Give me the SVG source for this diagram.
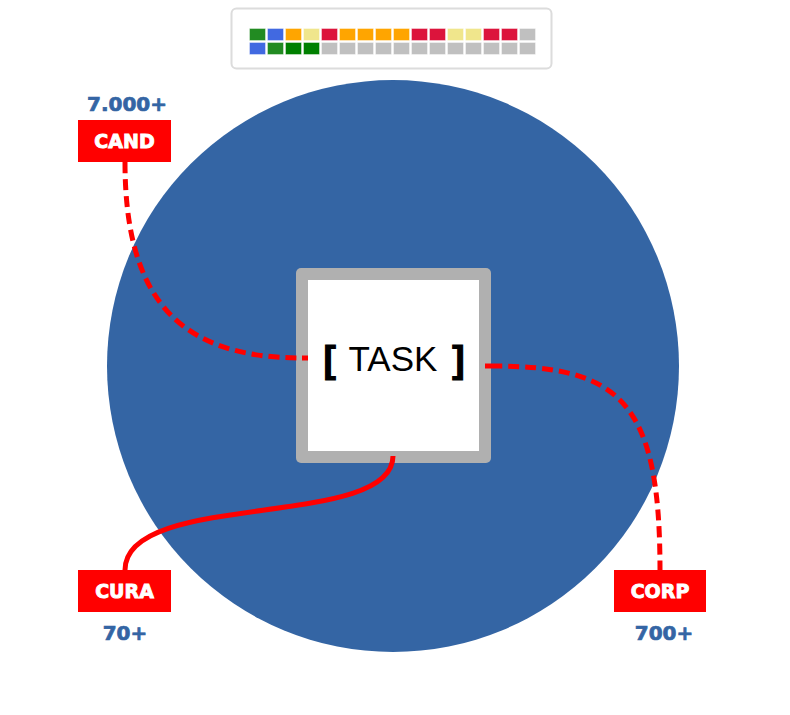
<svg xmlns="http://www.w3.org/2000/svg" width="790" height="715" viewBox="0 0 790 715">
<style>
.sq{stroke:#fff;stroke-opacity:0.4;stroke-width:1}
.lbl rect{fill:#ff0000}
.lbl text{font-family:"DejaVu Sans",sans-serif;font-weight:bold;font-size:19px;fill:#fff;stroke:#fff;stroke-width:0.9;text-anchor:middle}
.num{font-family:"DejaVu Sans",sans-serif;font-weight:bold;font-size:20px;fill:#3465a4;stroke:#3465a4;stroke-width:0.7;text-anchor:middle}
.con{fill:none;stroke:#ff0000;stroke-width:5}
.dash{stroke-dasharray:11 6}
.brk{font-family:"Liberation Sans",Arial,sans-serif;font-weight:bold;font-size:37px;fill:#000;stroke:#000;stroke-width:1.2}
</style>
<rect width="790" height="715" fill="#fff"/>
<g id="legend">
<rect x="231.5" y="8.5" width="320" height="60" rx="5" fill="#fff" stroke="#dcdcdc" stroke-width="2"/>
<g id="row1">
<rect class="sq" x="249.5" y="28.5" width="16" height="12" fill="#228b22"/>
<rect class="sq" x="267.5" y="28.5" width="16" height="12" fill="#4169e1"/>
<rect class="sq" x="285.5" y="28.5" width="16" height="12" fill="#ffa500"/>
<rect class="sq" x="303.5" y="28.5" width="16" height="12" fill="#f0e68c"/>
<rect class="sq" x="321.5" y="28.5" width="16" height="12" fill="#dc143c"/>
<rect class="sq" x="339.5" y="28.5" width="16" height="12" fill="#ffa500"/>
<rect class="sq" x="357.5" y="28.5" width="16" height="12" fill="#ffa500"/>
<rect class="sq" x="375.5" y="28.5" width="16" height="12" fill="#ffa500"/>
<rect class="sq" x="393.5" y="28.5" width="16" height="12" fill="#ffa500"/>
<rect class="sq" x="411.5" y="28.5" width="16" height="12" fill="#dc143c"/>
<rect class="sq" x="429.5" y="28.5" width="16" height="12" fill="#dc143c"/>
<rect class="sq" x="447.5" y="28.5" width="16" height="12" fill="#f0e68c"/>
<rect class="sq" x="465.5" y="28.5" width="16" height="12" fill="#f0e68c"/>
<rect class="sq" x="483.5" y="28.5" width="16" height="12" fill="#dc143c"/>
<rect class="sq" x="501.5" y="28.5" width="16" height="12" fill="#dc143c"/>
<rect class="sq" x="519.5" y="28.5" width="16" height="12" fill="#c0c0c0"/>
</g>
<g id="row2">
<rect class="sq" x="249.5" y="42.5" width="16" height="12" fill="#4169e1"/>
<rect class="sq" x="267.5" y="42.5" width="16" height="12" fill="#228b22"/>
<rect class="sq" x="285.5" y="42.5" width="16" height="12" fill="#008000"/>
<rect class="sq" x="303.5" y="42.5" width="16" height="12" fill="#008000"/>
<rect class="sq" x="321.5" y="42.5" width="16" height="12" fill="#c0c0c0"/>
<rect class="sq" x="339.5" y="42.5" width="16" height="12" fill="#c0c0c0"/>
<rect class="sq" x="357.5" y="42.5" width="16" height="12" fill="#c0c0c0"/>
<rect class="sq" x="375.5" y="42.5" width="16" height="12" fill="#c0c0c0"/>
<rect class="sq" x="393.5" y="42.5" width="16" height="12" fill="#c0c0c0"/>
<rect class="sq" x="411.5" y="42.5" width="16" height="12" fill="#c0c0c0"/>
<rect class="sq" x="429.5" y="42.5" width="16" height="12" fill="#c0c0c0"/>
<rect class="sq" x="447.5" y="42.5" width="16" height="12" fill="#c0c0c0"/>
<rect class="sq" x="465.5" y="42.5" width="16" height="12" fill="#c0c0c0"/>
<rect class="sq" x="483.5" y="42.5" width="16" height="12" fill="#c0c0c0"/>
<rect class="sq" x="501.5" y="42.5" width="16" height="12" fill="#c0c0c0"/>
<rect class="sq" x="519.5" y="42.5" width="16" height="12" fill="#c0c0c0"/>
</g>
</g>
<g id="circle">
<circle cx="393" cy="366" r="286" fill="#3465a4"/>
</g>
<g id="task">
<rect x="296" y="268" width="195" height="195" rx="5" fill="#b0b0b0"/>
<rect x="308" y="280" width="171" height="171" fill="#fff"/>
<text class="brk" x="323.5" y="372">[</text>
<text x="393" y="371" text-anchor="middle" font-family="Liberation Sans, Arial, sans-serif" font-size="35" fill="#000">TASK</text>
<text class="brk" x="464.5" y="372" text-anchor="end">]</text>
</g>
<g id="connectors">
<path class="con" d="M302,358 L308,358"/>
<path class="con" d="M485,366 L491,366"/>
<path class="con dash" d="M125,162 C125,300 180,358 302,358"/>
<path class="con dash" d="M491,366 C620,366 660,400 660,570"/>
<path class="con" d="M393,456 C393,530 125,490 125,570"/>
</g>
<g id="cand" class="lbl">
<rect x="78" y="120" width="93" height="42"/>
<text x="124.5" y="148">CAND</text>
</g>
<text class="num" x="127" y="111">7.000+</text>
<g id="cura" class="lbl">
<rect x="78" y="570" width="93" height="42"/>
<text x="124.5" y="598">CURA</text>
</g>
<text class="num" x="125" y="640">70+</text>
<g id="corp" class="lbl">
<rect x="614" y="570" width="92" height="42"/>
<text x="660" y="598">CORP</text>
</g>
<text class="num" x="664" y="640">700+</text>
</svg>
